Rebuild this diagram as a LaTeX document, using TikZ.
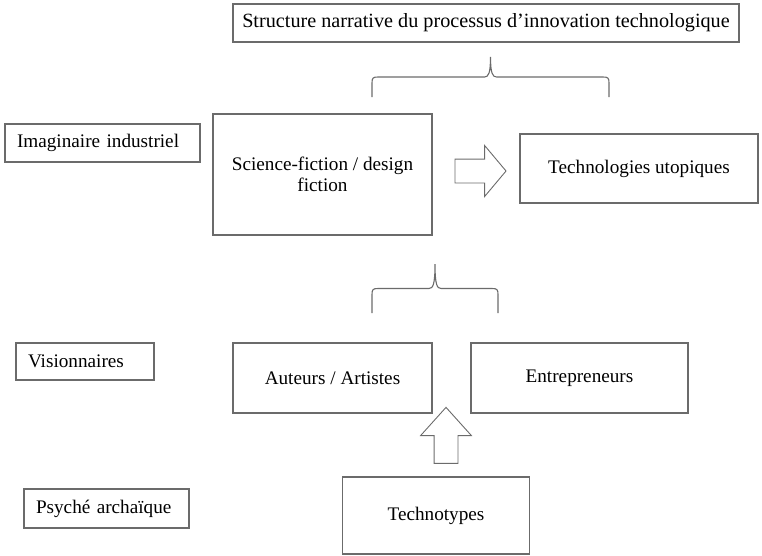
\documentclass[tikz,border=0pt]{standalone}
\usepackage{fontspec}
\setmainfont{Liberation Serif}
\usetikzlibrary{shapes.arrows}

\definecolor{trait}{gray}{0.42}

\tikzset{
  boite/.style={draw=trait, line width=1.3pt, inner sep=0pt, align=center, font=\fontsize{19.2}{21}\selectfont},
  etiquette/.style={boite, align=left, inner xsep=12pt},
  accolade/.style={draw=trait, line width=1.1pt},
  fleche/.style={single arrow, draw=trait, line width=0.9pt, inner xsep=0pt, inner ysep=11.5pt, single arrow head extend=13.5pt}
}

% accolade: gauche, droite, pointe, bas
\def\accolade(#1,#2,#3,#4){\draw[accolade] (#1,#4) -- ({#1},{(#3+#4)/2+6}) .. controls ({#1},{(#3+#4)/2+1}) and ({#1+1},{(#3+#4)/2}) .. ({#1+6},{(#3+#4)/2}) -- ({(#1+#2)/2-6},{(#3+#4)/2}) .. controls ({(#1+#2)/2-2},{(#3+#4)/2}) and ({(#1+#2)/2},{(#3+#4)/2-4}) .. ({(#1+#2)/2},{#3}) .. controls ({(#1+#2)/2},{(#3+#4)/2-4}) and ({(#1+#2)/2+2},{(#3+#4)/2}) .. ({(#1+#2)/2+6},{(#3+#4)/2}) -- ({#2-6},{(#3+#4)/2}) .. controls ({#2-1},{(#3+#4)/2}) and ({#2},{(#3+#4)/2+1}) .. ({#2},{(#3+#4)/2+6}) -- (#2,#4);}

\begin{document}
\begin{tikzpicture}[x=1pt,y=-1pt]
%%%%% START %%%%%
\useasboundingbox (0,0) rectangle (762,555);

\node[boite, minimum width=506pt, minimum height=38pt, font=\fontsize{20.2}{22}\selectfont] (structure) at (486,23) {Structure narrative du processus d’innovation technologique};
\accolade(372,609,57,97)

% imaginaire industriel
\node[etiquette, text width=171pt, minimum height=38pt] (imaginaire) at (102.5,143) {Imaginaire industriel};
\node[boite, minimum width=219pt, minimum height=121pt] (scifi) at (322.5,174.5) {Science-fiction / design\\fiction};
\node[fleche, minimum height=51pt, single arrow tip angle=100] (fleche1) at (475.5,171) {};
\node[boite, minimum width=238pt, minimum height=69pt] (utopies) at (639,168.5) {Technologies utopiques};

\accolade(372,498,264,313)

% visionnaires
\node[etiquette, text width=114pt, minimum height=37pt] (visionnaires) at (85,361.5) {Visionnaires};
\node[boite, minimum width=199pt, minimum height=70pt] (auteurs) at (332.5,378) {Auteurs / Artistes};
\node[boite, minimum width=217pt, minimum height=70pt] (entrepreneurs) at (579.5,378) {Entrepreneurs};
\node[fleche, minimum height=56pt, single arrow tip angle=84, rotate=90] (fleche2) at (446,442) {};

% psyche archaique
\node[etiquette, text width=141pt, minimum height=39pt] (psyche) at (106.5,508.5) {Psyché archaïque};
\node[boite, minimum width=187pt, minimum height=77pt] (technotypes) at (436,515.5) {Technotypes};
%%%%% END %%%%%
\end{tikzpicture}
\end{document}
